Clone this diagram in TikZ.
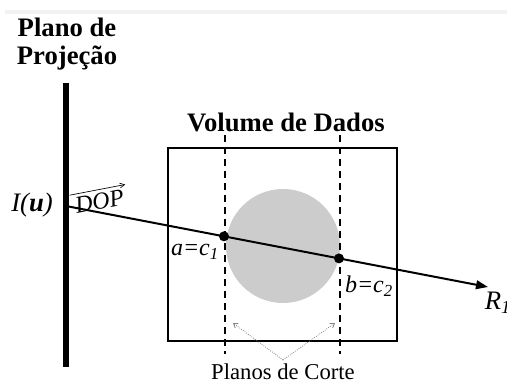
\documentclass[tikz,border=0pt]{standalone}
\usepackage{fontspec}
\setmainfont{Liberation Serif}
\usetikzlibrary{calc,arrows.meta}

\tikzset{every picture/.style={line width=0.75pt}}
\tikzset{
  cutplane/.style={line width=1.5pt, dash pattern=on 5.5pt off 3.5pt},
  hitdot/.style={circle, fill=black, inner sep=0pt, minimum size=7.5pt},
  guide/.style={gray, line width=0.6pt, densely dotted, -{Straight Barb[length=3pt,width=4pt]}},
  lbl/.style={font=\fontsize{18}{20}\selectfont\itshape},
  ttl/.style={font=\fontsize{20}{21}\selectfont\bfseries, align=center},
}

\begin{document}
\begin{tikzpicture}[x=0.75pt,y=0.75pt,yscale=-1,xscale=1]
\useasboundingbox (0,0) rectangle (507,383);

%Shape: Rectangle
\fill [black!5] (5,10) rectangle (507,14) ;

%Shape: Circle
\fill [black!20] (283,246) circle (57) ;
%Shape: Rectangle
\draw  [line width=2pt]  (168,148) rectangle (397,341) ;
%Straight Lines
\draw  [cutplane]  (225,135) -- (225,354) ;
%Straight Lines
\draw  [cutplane]  (340,135) -- (340,354) ;

\coordinate (src) at (66,206);
\coordinate (tip) at (488,287);
%Straight Lines
\draw  [line width=1.5pt, -{Triangle[length=9pt,width=6.5pt]}]  (src) -- node[pos=0.085, sloped, above, inner sep=2pt, lbl] (dop) {DOP} (tip) ;
%Straight Lines
\draw  [line width=0.5pt, -{Straight Barb[length=3.5pt,width=3.5pt]}]  (dop.north west) -- (dop.north east) ;
%Straight Lines
\draw  [line width=4.5pt]  (66,83) -- (66,367) ;

\node [hitdot] (a) at ($(src)!0.3744!(tip)$) {};
\node [hitdot] (b) at ($(src)!0.6469!(tip)$) {};

% Text Node
\draw (67,44) node (plano) [ttl]  {Plano de\\Projeção};
% Text Node
\draw (286,122) node (volume) [ttl]  {Volume de Dados};
% Text Node
\draw (32,205) node (iu) [lbl, font=\fontsize{20}{22}\selectfont\itshape]  {I(\textbf{u})};
% Text Node
\draw (195,252) node (alabel) [lbl]  {a=c\textsubscript{1}};
% Text Node
\draw (369,286) node (blabel) [lbl]  {b=c\textsubscript{2}};
% Text Node
\draw (498,303) node (rlabel) [lbl, font=\fontsize{20}{22}\selectfont\itshape]  {R\textsubscript{1}};
% Text Node
\draw (283,379) node (corte) [anchor=base, font=\fontsize{17}{19}\selectfont]  {Planos de Corte};

\coordinate (apex) at (283,360);
\coordinate (lefttip) at (233,323);
\coordinate (righttip) at (335,323);
%Straight Lines
\draw  [guide]  (apex) -- (lefttip) ;
%Straight Lines
\draw  [guide]  (apex) -- (righttip) ;

\end{tikzpicture}
\end{document}
